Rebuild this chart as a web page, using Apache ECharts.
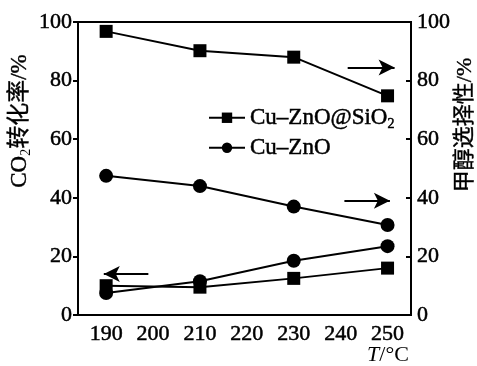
<!DOCTYPE html>
<html>
<head>
<meta charset="utf-8">
<script src="https://cdn.jsdelivr.net/npm/echarts@6/dist/echarts.min.js"></script>
<style>
  html,body{margin:0;padding:0;background:#fff;}
  #main{width:477px;height:366px;}
</style>
</head>
<body>
<div id="main"></div>
<script>
// 温度
var temps = [190, 210, 230, 250];
var xTicks = [190, 200, 210, 220, 230, 240, 250];
// 甲醇选择性
var selSiO2 = [96.8, 90.2, 88, 74.8];
var selZnO = [47.5, 44, 37, 30.7];
// CO2转化率
var convSiO2 = [10, 9.5, 12.5, 16];
var convZnO = [7.5, 11.5, 18.5, 23.5];
// 箭头 [起点x, 终点x, y]
var arrows = [[199, 189.5, 14], [241.5, 251.5, 84.5], [240.8, 250.5, 39]];

var nameSiO2 = 'Cu–ZnO@SiO2';
var nameZnO = 'Cu–ZnO';
var font = 'Liberation Serif';
var thick = {textBorderColor: '#000', textBorderWidth: 0.5};

function pairs(xs, ys){
  var out = [];
  for (var i = 0; i < xs.length; i++) out.push([xs[i], ys[i]]);
  return out;
}

function mkSeries(name, data, sym){
  return {
    name: name, type: 'line', data: pairs(temps, data),
    symbol: sym, symbolSize: sym == 'rect' ? 13 : 14,
    lineStyle: {color: '#000', width: 2},
    itemStyle: {color: '#000'},
    z: 3
  };
}

var arrowLines = [];
for (var i = 0; i < arrows.length; i++){
  arrowLines.push([{coord: [arrows[i][0], arrows[i][2]]}, {coord: [arrows[i][1], arrows[i][2]]}]);
}

var series = [
  mkSeries(nameSiO2, selSiO2, 'rect'),
  mkSeries(nameZnO, selZnO, 'circle'),
  mkSeries(nameSiO2, convSiO2, 'rect'),
  mkSeries(nameZnO, convZnO, 'circle')
];
series[0].markLine = {
  silent: true, symbol: ['none', 'arrow'], symbolSize: [12, 16],
  label: {show: false},
  lineStyle: {color: '#000', width: 2, type: 'solid'},
  data: arrowLines
};

function lab(size){
  return Object.assign({color: '#000', fontSize: size, fontFamily: font}, thick);
}

var chart = echarts.init(document.getElementById('main'));
chart.setOption({
  animation: false,
  backgroundColor: '#fff',
  textStyle: {fontFamily: font},
  grid: {left: 78, right: 66, top: 22, bottom: 51, show: true, borderColor: '#000', borderWidth: 2},
  legend: {
    data: [nameSiO2, nameZnO],
    orient: 'vertical', left: 203, top: 101,
    itemWidth: 36, itemHeight: 13, itemGap: 4,
    textStyle: Object.assign(lab(23), {
      rich: {n: lab(23),
             s: Object.assign(lab(14), {verticalAlign: 'bottom', padding: [14, 0, 0, 0]})}}),
    formatter: function(n){
      if (n == nameSiO2) return '{n|Cu–ZnO@SiO}{s|2}';
      return '{n|' + n + '}';
    }
  },
  xAxis: {
    type: 'value', min: 184, max: 255,
    axisLine: {lineStyle: {color: '#000', width: 2}},
    axisTick: {show: false},
    splitLine: {show: false},
    axisLabel: Object.assign(lab(22), {customValues: xTicks, margin: 8})
  },
  yAxis: [
    {type: 'value', min: 0, max: 100, interval: 20, position: 'left',
     axisLine: {show: true, lineStyle: {color: '#000', width: 2}},
     axisTick: {show: true, length: 5, lineStyle: {width: 2}},
     splitLine: {show: false},
     axisLabel: Object.assign(lab(22), {margin: 6})},
    {type: 'value', min: 0, max: 100, interval: 20, position: 'right',
     axisLine: {show: true, lineStyle: {color: '#000', width: 2}},
     axisTick: {show: true, inside: true, length: 5, lineStyle: {width: 2}},
     splitLine: {show: false},
     axisLabel: Object.assign(lab(22), {margin: 6})}
  ],
  graphic: [
    {type: 'text', x: 20, y: 121, rotation: Math.PI / 2, z: 10,
     style: {text: '{n|CO}{s|2}{n|转化率/%}', align: 'center', verticalAlign: 'middle',
       rich: {n: {fontSize: 23, fontFamily: font + ', Noto Sans CJK SC', fill: '#000', stroke: '#000', lineWidth: 0.4},
              s: {fontSize: 14, fontFamily: font, fill: '#000', padding: [12, 0, 0, 0]}}}},
    {type: 'text', x: 465, y: 125, rotation: Math.PI / 2, z: 10,
     style: {text: '甲醇选择性/%', align: 'center', verticalAlign: 'middle',
       fontSize: 22, fontFamily: font + ', Noto Sans CJK SC', fill: '#000', stroke: '#000', lineWidth: 0.4}},
    {type: 'text', x: 388, y: 355, z: 10,
     style: {text: '{i|T}{n|/°C}', align: 'center', verticalAlign: 'middle',
       rich: {i: {fontSize: 22, fontFamily: font, fontStyle: 'italic', fill: '#000'},
              n: {fontSize: 22, fontFamily: font, fill: '#000'}}}}
  ],
  series: series
});
</script>
</body>
</html>
